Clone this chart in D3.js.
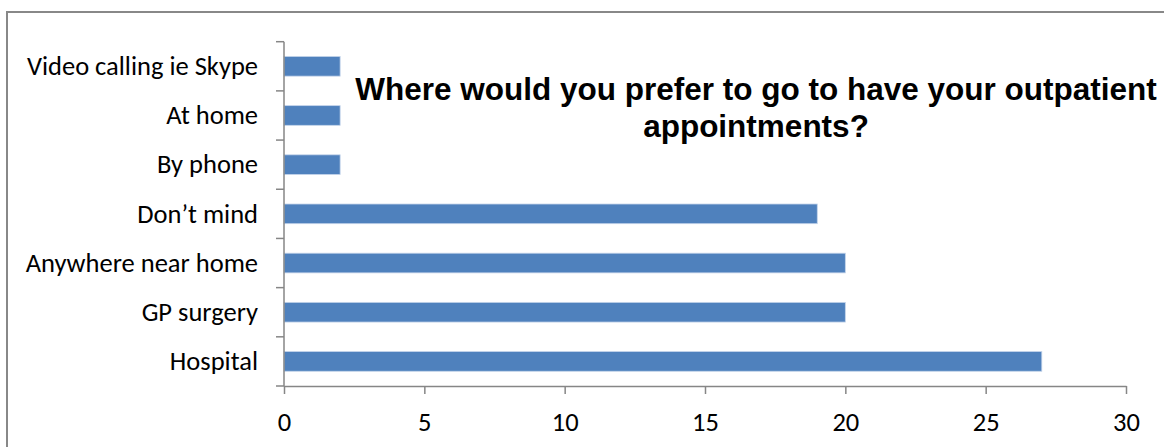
<!DOCTYPE html>
<html><head><meta charset="utf-8">
<script src="https://cdn.jsdelivr.net/npm/d3@7"></script>
<style>body{margin:0;background:#fff}svg{display:block}</style>
</head><body>
<svg id="c" width="1164" height="447"></svg>
<script>
const categories = ["Hospital","GP surgery","Anywhere near home","Don\u2019t mind","By phone","At home","Video calling ie Skype"];
const values = [27,20,20,19,2,2,2];
const xTicks = [0,5,10,15,20,25,30];
const title = ["Where would you prefer to go to have your outpatient","appointments?"];

const svg = d3.select("#c");
const font = "Carlito, 'Open Sans', Lato, sans-serif";
// frame
svg.append("rect").attr("x",7).attr("y",12).attr("width",1170).attr("height",450)
  .attr("fill","#fff").attr("stroke","#888").attr("stroke-width",2);

const x = d3.scaleLinear().domain([0,30]).range([284,1126]);
const y = d3.scaleBand().domain(categories.slice().reverse()).range([41.7,386]).paddingInner(0.6).paddingOuter(0.3);

// bars
svg.selectAll("rect.bar").data(categories).enter().append("rect").attr("class","bar")
  .attr("x",x(0)).attr("y",d=>y(d)).attr("height",y.bandwidth())
  .attr("width",(d,i)=>x(values[i])-x(0))
  .attr("fill","#4F81BD").attr("stroke","#C4D4EA").attr("stroke-width",0.8);

// y axis line and boundary ticks
const step = y.step();
const y0 = y.range()[0];
const bounds = d3.range(categories.length+1).map(i=>y0+i*step);
svg.append("line").attr("x1",284).attr("x2",284).attr("y1",y0).attr("y2",y.range()[1]).attr("stroke","#868686").attr("stroke-width",1.5);
svg.selectAll("line.yt").data(bounds).enter().append("line").attr("class","yt")
  .attr("x1",276).attr("x2",284).attr("y1",d=>d).attr("y2",d=>d).attr("stroke","#868686").attr("stroke-width",1.5);
svg.selectAll("text.yl").data(categories).enter().append("text").attr("class","yl")
  .attr("x",258).attr("y",d=>y(d)+y.bandwidth()/2).attr("dy","0.33em")
  .attr("text-anchor","end").attr("font-family",font).attr("font-size",26.5).attr("fill","#000").text(d=>d);

// x axis
const xa = svg.append("g").attr("transform","translate(0,386)")
  .call(d3.axisBottom(x).tickValues(xTicks).tickSize(8).tickSizeOuter(0).tickFormat(d3.format("d")));
xa.select(".domain").attr("stroke","#868686").attr("stroke-width",1.5);
xa.selectAll(".tick line").attr("stroke","#868686").attr("stroke-width",1.5);
xa.selectAll("text").attr("font-family",font).attr("font-size",26.5).attr("fill","#000").attr("y",45).attr("dy",0);

// title
svg.selectAll("text.t").data(title).enter().append("text").attr("class","t")
  .attr("x",756).attr("y",(d,i)=>100+i*37).attr("text-anchor","middle")
  .attr("font-family","'Liberation Sans', Arial, sans-serif").attr("font-weight","bold")
  .attr("font-size",31.5).attr("fill","#000").text(d=>d);
</script>
</body></html>
